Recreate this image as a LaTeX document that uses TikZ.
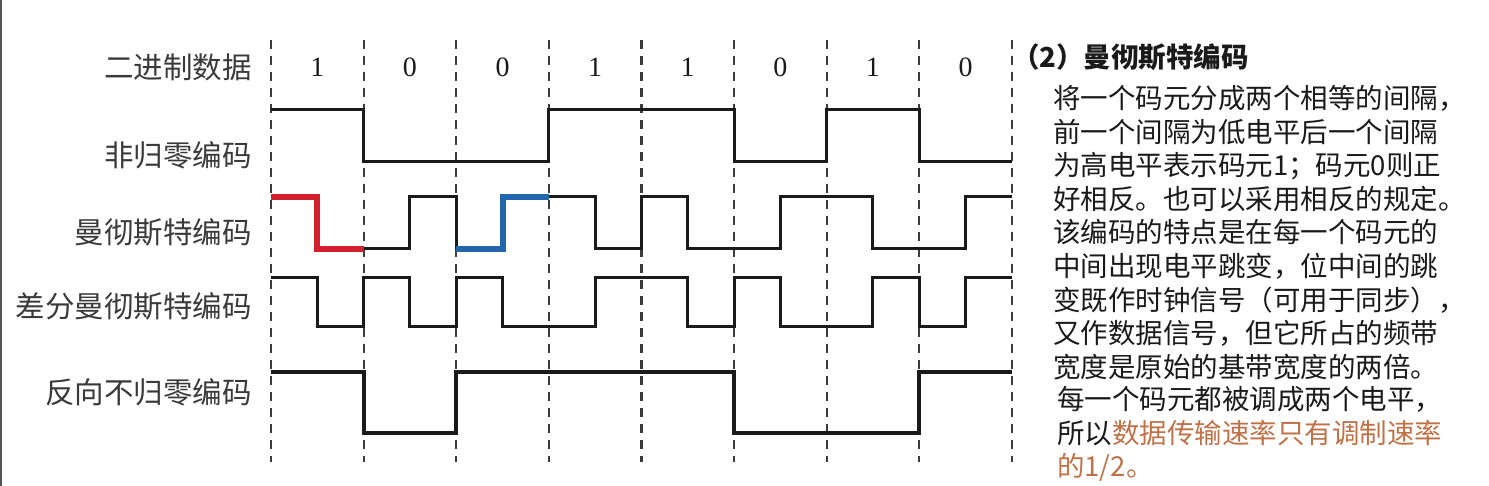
\documentclass[tikz,border=0pt]{standalone}
\usepackage{fontspec}
\usepackage{xcolor}
\usepackage{tikz}
\usetikzlibrary{positioning}
\setmainfont{Liberation Serif}
\newfontfamily\cjk{Noto Sans CJK SC}
\definecolor{Ink}{HTML}{1A1A1A}
\definecolor{LabelInk}{HTML}{3A3A3A}
\definecolor{Accent}{HTML}{BF7248}
\definecolor{RedSeg}{HTML}{D3202F}
\definecolor{BlueSeg}{HTML}{2466AC}

\begin{document}
\begin{tikzpicture}[
  x=1pt, y=-1pt,
  lbl/.style={anchor=east, inner sep=0pt, text=LabelInk, font=\cjk\fontsize{29.5}{34}\selectfont},
  digit/.style={inner sep=0pt, text=Ink, font=\fontsize{28}{32}\selectfont},
  head/.style={anchor=west, inner sep=0pt, text=Ink, font=\cjk\bfseries\fontsize{27.5}{33}\selectfont},
  body/.style={anchor=north west, inner sep=0pt, align=left, text=Ink, font=\cjk\fontsize{27.5}{33.6}\selectfont},
  gridline/.style={line width=2.2pt, draw=Ink!85, dash pattern=on 9pt off 7pt},
  wave/.style={line width=3pt, draw=Ink, line join=miter},
  mark red/.style={line width=6pt, draw=RedSeg, line join=miter},
  mark blue/.style={line width=6pt, draw=BlueSeg, line join=miter}
]
  \useasboundingbox[fill=white] (0,0) rectangle (1489,486);
  \draw[line width=2pt, draw=Ink!75] (1,0) -- (1,486);

  \node[lbl] (bin)  at (252,67)  {二进制数据};
  \node[lbl] (nrz)  at (252,155) {非归零编码};
  \node[lbl] (man)  at (252,232) {曼彻斯特编码};
  \node[lbl] (dman) at (252,306) {差分曼彻斯特编码};
  \node[lbl] (inrz) at (252,392) {反向不归零编码};

  \begin{scope}[shift={(271,0)}, x=46.3pt]
    \foreach \k in {0,2,...,16}
      \draw[gridline] (\k,40) -- (\k,462);
    \foreach \b [count=\i] in {1,0,0,1,1,0,1,0}
      \node[digit] (bit\i) at ({2*\i-1},67) {\b};

    \draw[wave] (0,110) -| (2,162) -| (6,110) -| (10,162) -| (12,110) -| (14,162) -- (16,162);

    \draw[mark red] (0,197) -| (1,249) -- (2,249);
    \draw[wave] (2,249) -| (3,197) -| (4,249);
    \draw[mark blue] (4,249) -| (5,197) -- (6,197);
    \draw[wave] (6,197) -| (7,249) -| (8,197) -| (9,249) -| (11,197) -| (13,249) -| (15,197) -- (16,197);

    \draw[wave] (0,278) -| (1,327) -| (2,278) -| (3,327) -| (4,278) -| (5,327) -| (7,278) -| (9,327)
      -| (10,278) -| (11,327) -| (13,278) -| (14,327) -| (15,278) -- (16,278);

    \draw[wave, line width=4pt] (0,372) -| (2,433) -| (4,372) -| (10,433) -| (14,372) -- (16,372);
  \end{scope}

  \node[head] (title) at (1012,57) {（2）曼彻斯特编码};
  \node[body] (para1) at (1053,85) {将一个码元分成两个相等的间隔，\\
    前一个间隔为低电平后一个间隔\\
    为高电平表示码元1；码元0则正\\
    好相反。也可以采用相反的规定。\\
    该编码的特点是在每一个码元的\\
    中间出现电平跳变，位中间的跳\\
    变既作时钟信号（可用于同步），\\
    又作数据信号，但它所占的频带\\
    宽度是原始的基带宽度的两倍。};
  \node[body, below=6pt of para1.south west, anchor=north west, xshift=4pt] (para2) {每一个码元都被调成两个电平，\\
    所以\textcolor{Accent}{数据传输速率只有调制速率}\\
    \textcolor{Accent}{的1/2。}};
\end{tikzpicture}
\end{document}
